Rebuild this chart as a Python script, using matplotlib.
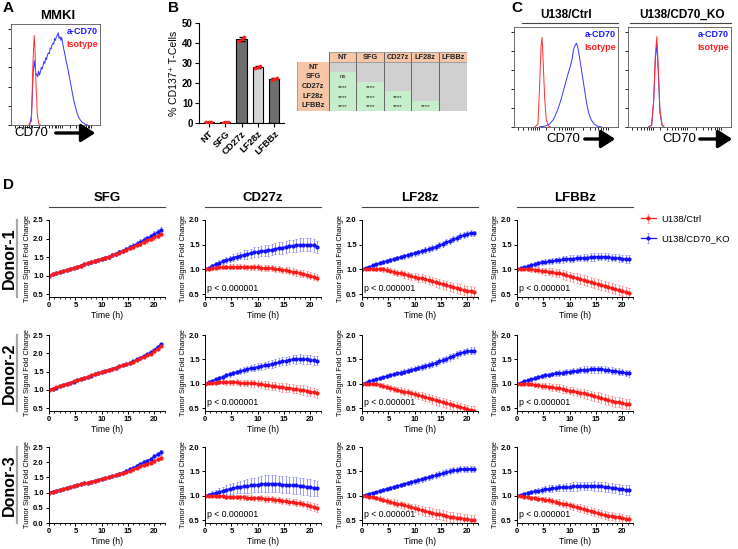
import numpy as np
import matplotlib
matplotlib.use("Agg")
import matplotlib.pyplot as plt
from matplotlib.lines import Line2D
from matplotlib.patches import Rectangle, FancyArrowPatch

plt.rcParams["font.family"] = ["Liberation Sans", "DejaVu Sans"]
plt.rcParams["font.weight"] = "bold"
plt.rcParams["axes.linewidth"] = 0.8

# ─────────────────────────────────────────────
# Data
# ─────────────────────────────────────────────
# A / C : flow histograms (x = % of display axis, y = % of mode)
mmki_iso_x = [20, 23, 24.5, 26, 27, 28, 29.5, 31, 33]
mmki_iso_y = [0, 4, 60, 93, 78, 45, 12, 2, 0]
mmki_cd70_x = [21, 23, 25, 26, 27, 28, 29, 30, 31, 32, 33, 34, 35, 36, 37, 38, 39, 40,
               41, 42, 43, 44, 45, 46, 47, 48, 49, 50, 51, 52, 53, 54, 55, 56, 57, 58,
               59, 60, 62, 64, 66, 68, 70, 72, 74, 76, 78, 80, 83, 86]
mmki_cd70_y = [0, 10, 55, 67, 60, 52, 53, 50, 56, 52, 55, 60, 58, 62, 66, 64, 70, 68,
               73, 75, 74, 80, 79, 83, 85, 84, 90, 88, 92, 93, 96, 90, 92, 88, 91, 85,
               80, 76, 66, 58, 48, 38, 28, 20, 13, 8, 5, 3, 1, 0]

ctrl_iso_x = [20, 23, 24.5, 26, 27, 28, 29.5, 31, 33, 35]
ctrl_iso_y = [0, 3, 40, 85, 94, 70, 30, 8, 1, 0]
ctrl_cd70_x = [24, 30, 34, 38, 42, 45, 48, 50, 52, 54, 56, 57, 58, 59, 60, 61, 62, 64,
               66, 68, 70, 72, 74, 77, 80, 84]
ctrl_cd70_y = [0, 1, 3, 8, 18, 28, 40, 48, 56, 63, 72, 80, 84, 86, 88, 85, 80, 66,
               52, 38, 24, 14, 8, 3, 1, 0]
ko_iso_x = [20, 23, 25, 26.5, 28, 29.5, 31, 33, 35]
ko_iso_y = [0, 2, 30, 75, 95, 60, 18, 3, 0]
ko_cd70_x = [20, 23, 25, 26.5, 28, 29.5, 31, 33, 35]
ko_cd70_y = [0, 2, 28, 70, 88, 55, 15, 2, 0]

# B : % CD137+ T cells
bar_labels = ["NT", "SFG", "CD27z", "LF28z", "LFBBz"]
bar_reps = [[0.3, 0.6, 0.5], [0.2, 0.3, 0.4], [40.8, 42.0, 43.2],
            [27.6, 28.1, 28.4], [21.7, 22.1, 22.4]]
bar_colors = ["#6e6e6e", "#6e6e6e", "#6e6e6e", "#d4d4d4", "#6e6e6e"]

# B : significance table (row vs column)
sig_table = [["", "", "", "", ""],
             ["ns", "", "", "", ""],
             ["****", "****", "", "", ""],
             ["****", "****", "****", "", ""],
             ["****", "****", "****", "****", ""]]

# D : tumor signal fold change, imaged every 40 min
time_h = np.arange(33) * 40 / 60
car_names = ["SFG", "CD27z", "LF28z", "LFBBz"]
donors = ["Donor-1", "Donor-2", "Donor-3"]

sfg_d1_ko = [1.00, 1.03, 1.06, 1.09, 1.12, 1.15, 1.18, 1.21, 1.24, 1.27, 1.30,
             1.33, 1.36, 1.39, 1.42, 1.45, 1.48, 1.51, 1.55, 1.59, 1.63, 1.67,
             1.71, 1.76, 1.81, 1.86, 1.91, 1.96, 2.01, 2.06, 2.12, 2.17, 2.23]
sfg_d1_ko_err = [0.00, 0.01, 0.01, 0.02, 0.02, 0.02, 0.03, 0.03, 0.03, 0.03, 0.04,
                 0.04, 0.04, 0.04, 0.04, 0.05, 0.05, 0.05, 0.05, 0.05, 0.05, 0.06,
                 0.06, 0.06, 0.06, 0.06, 0.07, 0.07, 0.07, 0.07, 0.07, 0.08, 0.08]
sfg_d1_ctrl = [1.00, 1.03, 1.06, 1.09, 1.12, 1.15, 1.18, 1.21, 1.24, 1.27, 1.30,
               1.33, 1.36, 1.39, 1.42, 1.45, 1.48, 1.51, 1.55, 1.58, 1.62, 1.66,
               1.70, 1.74, 1.78, 1.82, 1.86, 1.91, 1.95, 1.99, 2.04, 2.08, 2.13]
sfg_d1_ctrl_err = [0.00, 0.01, 0.01, 0.01, 0.02, 0.02, 0.02, 0.02, 0.03, 0.03, 0.03,
                   0.03, 0.03, 0.04, 0.04, 0.04, 0.04, 0.04, 0.05, 0.05, 0.05, 0.05,
                   0.05, 0.05, 0.06, 0.06, 0.06, 0.06, 0.06, 0.07, 0.07, 0.07, 0.07]

sfg_d2_ko = [1.00, 1.03, 1.06, 1.10, 1.13, 1.16, 1.19, 1.22, 1.26, 1.29, 1.32,
             1.35, 1.38, 1.42, 1.45, 1.48, 1.51, 1.54, 1.58, 1.61, 1.64, 1.67,
             1.70, 1.73, 1.78, 1.83, 1.88, 1.93, 1.98, 2.03, 2.10, 2.18, 2.26]
sfg_d2_ko_err = [0.00, 0.01, 0.01, 0.01, 0.01, 0.01, 0.01, 0.01, 0.02, 0.02, 0.02,
                 0.02, 0.02, 0.02, 0.02, 0.02, 0.02, 0.02, 0.02, 0.02, 0.02, 0.02,
                 0.03, 0.03, 0.03, 0.03, 0.03, 0.03, 0.03, 0.03, 0.03, 0.03, 0.03]
sfg_d2_ctrl = [1.00, 1.03, 1.07, 1.10, 1.14, 1.17, 1.20, 1.23, 1.27, 1.30, 1.33,
               1.36, 1.40, 1.43, 1.46, 1.49, 1.52, 1.55, 1.58, 1.61, 1.64, 1.67,
               1.70, 1.73, 1.77, 1.82, 1.86, 1.90, 1.95, 1.99, 2.05, 2.13, 2.20]
sfg_d2_ctrl_err = [0.00, 0.01, 0.01, 0.01, 0.01, 0.01, 0.01, 0.01, 0.01, 0.02, 0.02,
                   0.02, 0.02, 0.02, 0.02, 0.02, 0.02, 0.02, 0.02, 0.02, 0.02, 0.02,
                   0.02, 0.02, 0.03, 0.03, 0.03, 0.03, 0.03, 0.03, 0.03, 0.03, 0.03]

sfg_d3_ko = [1.00, 1.03, 1.06, 1.09, 1.12, 1.15, 1.18, 1.21, 1.24, 1.27, 1.30,
             1.33, 1.36, 1.39, 1.42, 1.45, 1.48, 1.51, 1.54, 1.58, 1.62, 1.66,
             1.71, 1.76, 1.82, 1.88, 1.94, 2.00, 2.05, 2.11, 2.19, 2.26, 2.32]
sfg_d3_ko_err = [0.00, 0.01, 0.01, 0.02, 0.02, 0.02, 0.02, 0.02, 0.03, 0.03, 0.03,
                 0.03, 0.03, 0.03, 0.03, 0.04, 0.04, 0.04, 0.04, 0.04, 0.05, 0.05,
                 0.05, 0.05, 0.06, 0.06, 0.06, 0.06, 0.06, 0.07, 0.07, 0.07, 0.07]
sfg_d3_ctrl = [1.00, 1.03, 1.06, 1.09, 1.12, 1.15, 1.18, 1.21, 1.24, 1.27, 1.30,
               1.33, 1.36, 1.39, 1.42, 1.45, 1.48, 1.51, 1.54, 1.57, 1.60, 1.64,
               1.68, 1.72, 1.77, 1.81, 1.86, 1.90, 1.95, 1.99, 2.04, 2.09, 2.14]
sfg_d3_ctrl_err = [0.00, 0.01, 0.01, 0.01, 0.02, 0.02, 0.02, 0.02, 0.02, 0.03, 0.03,
                   0.03, 0.03, 0.03, 0.03, 0.03, 0.04, 0.04, 0.04, 0.04, 0.04, 0.04,
                   0.05, 0.05, 0.05, 0.05, 0.05, 0.05, 0.06, 0.06, 0.06, 0.06, 0.06]

cd27z_d1_ko = [1.00, 1.03, 1.07, 1.10, 1.13, 1.16, 1.19, 1.21, 1.24, 1.26, 1.28,
               1.30, 1.31, 1.33, 1.35, 1.36, 1.37, 1.38, 1.39, 1.40, 1.42, 1.43,
               1.44, 1.46, 1.47, 1.48, 1.49, 1.50, 1.50, 1.50, 1.50, 1.49, 1.45]
cd27z_d1_ko_err = [0.00, 0.02, 0.03, 0.04, 0.05, 0.06, 0.06, 0.07, 0.07, 0.08, 0.08,
                   0.09, 0.09, 0.09, 0.10, 0.10, 0.10, 0.11, 0.11, 0.11, 0.11, 0.12,
                   0.12, 0.12, 0.12, 0.12, 0.13, 0.13, 0.13, 0.13, 0.13, 0.13, 0.12]
cd27z_d1_ctrl = [1.00, 1.01, 1.02, 1.03, 1.04, 1.04, 1.05, 1.05, 1.05, 1.05, 1.05,
                 1.05, 1.04, 1.04, 1.04, 1.04, 1.03, 1.03, 1.03, 1.02, 1.01, 1.00,
                 0.99, 0.98, 0.97, 0.95, 0.94, 0.92, 0.91, 0.89, 0.87, 0.85, 0.83]
cd27z_d1_ctrl_err = [0.00, 0.02, 0.03, 0.03, 0.04, 0.04, 0.04, 0.05, 0.05, 0.05, 0.05,
                     0.05, 0.05, 0.05, 0.06, 0.06, 0.06, 0.06, 0.06, 0.06, 0.06, 0.06,
                     0.06, 0.06, 0.07, 0.07, 0.07, 0.07, 0.07, 0.07, 0.07, 0.07, 0.07]

cd27z_d2_ko = [1.00, 1.03, 1.06, 1.09, 1.12, 1.14, 1.17, 1.19, 1.22, 1.24, 1.26,
               1.28, 1.30, 1.32, 1.33, 1.35, 1.36, 1.38, 1.39, 1.41, 1.42, 1.44,
               1.46, 1.47, 1.49, 1.50, 1.50, 1.51, 1.50, 1.50, 1.49, 1.48, 1.47]
cd27z_d2_ko_err = [0.00, 0.01, 0.02, 0.03, 0.03, 0.04, 0.04, 0.05, 0.05, 0.05, 0.06,
                   0.06, 0.06, 0.06, 0.07, 0.07, 0.07, 0.07, 0.07, 0.08, 0.08, 0.08,
                   0.08, 0.08, 0.08, 0.08, 0.09, 0.09, 0.09, 0.09, 0.09, 0.09, 0.09]
cd27z_d2_ctrl = [1.00, 1.01, 1.02, 1.02, 1.03, 1.03, 1.03, 1.03, 1.03, 1.03, 1.02,
                 1.02, 1.02, 1.01, 1.01, 1.00, 0.99, 0.98, 0.97, 0.96, 0.95, 0.94,
                 0.93, 0.92, 0.91, 0.90, 0.89, 0.88, 0.87, 0.85, 0.84, 0.82, 0.80]
cd27z_d2_ctrl_err = [0.00, 0.02, 0.03, 0.03, 0.04, 0.04, 0.05, 0.05, 0.05, 0.06, 0.06,
                     0.06, 0.06, 0.07, 0.07, 0.07, 0.07, 0.08, 0.08, 0.08, 0.08, 0.08,
                     0.09, 0.09, 0.09, 0.09, 0.09, 0.10, 0.10, 0.10, 0.10, 0.10, 0.10]

cd27z_d3_ko = [1.00, 1.02, 1.04, 1.06, 1.08, 1.10, 1.12, 1.14, 1.15, 1.17, 1.18,
               1.19, 1.20, 1.21, 1.22, 1.23, 1.24, 1.25, 1.25, 1.25, 1.25, 1.24,
               1.23, 1.23, 1.22, 1.21, 1.21, 1.20, 1.19, 1.18, 1.17, 1.16, 1.15]
cd27z_d3_ko_err = [0.00, 0.03, 0.05, 0.06, 0.07, 0.08, 0.09, 0.10, 0.11, 0.12, 0.13,
                   0.14, 0.14, 0.15, 0.15, 0.16, 0.16, 0.17, 0.17, 0.17, 0.17, 0.17,
                   0.17, 0.17, 0.17, 0.17, 0.17, 0.17, 0.17, 0.17, 0.17, 0.17, 0.16]
cd27z_d3_ctrl = [1.00, 1.00, 1.00, 0.99, 0.99, 0.99, 0.98, 0.98, 0.98, 0.97, 0.97,
                 0.97, 0.96, 0.96, 0.95, 0.95, 0.95, 0.94, 0.94, 0.93, 0.92, 0.91,
                 0.90, 0.89, 0.88, 0.87, 0.86, 0.85, 0.83, 0.81, 0.79, 0.77, 0.75]
cd27z_d3_ctrl_err = [0.00, 0.02, 0.02, 0.03, 0.03, 0.03, 0.04, 0.04, 0.04, 0.04, 0.05,
                     0.05, 0.05, 0.05, 0.05, 0.05, 0.06, 0.06, 0.06, 0.06, 0.06, 0.06,
                     0.06, 0.07, 0.07, 0.07, 0.07, 0.07, 0.07, 0.08, 0.08, 0.08, 0.08]

lf28z_d1_ko = [1.00, 1.03, 1.05, 1.08, 1.10, 1.13, 1.15, 1.17, 1.19, 1.21, 1.23,
               1.25, 1.27, 1.29, 1.31, 1.33, 1.35, 1.37, 1.39, 1.41, 1.44, 1.46,
               1.49, 1.52, 1.55, 1.58, 1.61, 1.64, 1.67, 1.70, 1.72, 1.74, 1.73]
lf28z_d1_ko_err = [0.00, 0.02, 0.02, 0.03, 0.03, 0.03, 0.04, 0.04, 0.04, 0.04, 0.05,
                   0.05, 0.05, 0.05, 0.05, 0.05, 0.05, 0.05, 0.06, 0.06, 0.06, 0.06,
                   0.06, 0.06, 0.06, 0.06, 0.06, 0.06, 0.06, 0.06, 0.06, 0.06, 0.05]
lf28z_d1_ctrl = [1.00, 1.00, 1.01, 1.01, 1.01, 1.00, 1.00, 0.99, 0.97, 0.95, 0.93,
                 0.92, 0.90, 0.88, 0.86, 0.85, 0.83, 0.82, 0.80, 0.78, 0.76, 0.74,
                 0.72, 0.70, 0.68, 0.66, 0.64, 0.62, 0.60, 0.58, 0.57, 0.56, 0.55]
lf28z_d1_ctrl_err = [0.00, 0.02, 0.03, 0.03, 0.04, 0.04, 0.05, 0.05, 0.05, 0.06, 0.06,
                     0.06, 0.07, 0.07, 0.07, 0.07, 0.08, 0.08, 0.08, 0.08, 0.08, 0.09,
                     0.09, 0.09, 0.09, 0.09, 0.09, 0.10, 0.10, 0.10, 0.10, 0.10, 0.10]

lf28z_d2_ko = [1.00, 1.02, 1.05, 1.07, 1.09, 1.11, 1.13, 1.15, 1.17, 1.19, 1.21,
               1.23, 1.25, 1.27, 1.29, 1.31, 1.33, 1.35, 1.37, 1.39, 1.41, 1.43,
               1.46, 1.48, 1.51, 1.54, 1.57, 1.60, 1.63, 1.65, 1.67, 1.68, 1.68]
lf28z_d2_ko_err = [0.00, 0.01, 0.02, 0.02, 0.03, 0.03, 0.03, 0.04, 0.04, 0.04, 0.04,
                   0.05, 0.05, 0.05, 0.05, 0.05, 0.05, 0.06, 0.06, 0.06, 0.06, 0.06,
                   0.06, 0.06, 0.06, 0.07, 0.07, 0.07, 0.07, 0.07, 0.07, 0.07, 0.07]
lf28z_d2_ctrl = [1.00, 1.00, 1.00, 1.00, 0.99, 0.98, 0.96, 0.94, 0.92, 0.90, 0.88,
                 0.86, 0.84, 0.82, 0.80, 0.78, 0.76, 0.74, 0.72, 0.70, 0.68, 0.66,
                 0.64, 0.62, 0.60, 0.58, 0.56, 0.54, 0.52, 0.50, 0.48, 0.46, 0.45]
lf28z_d2_ctrl_err = [0.00, 0.02, 0.02, 0.03, 0.04, 0.04, 0.05, 0.05, 0.06, 0.06, 0.06,
                     0.07, 0.07, 0.07, 0.07, 0.08, 0.08, 0.08, 0.08, 0.08, 0.09, 0.09,
                     0.09, 0.09, 0.09, 0.09, 0.09, 0.09, 0.09, 0.09, 0.09, 0.09, 0.09]

lf28z_d3_ko = [1.00, 1.02, 1.04, 1.06, 1.08, 1.10, 1.12, 1.14, 1.16, 1.18, 1.20,
               1.22, 1.24, 1.26, 1.28, 1.30, 1.32, 1.34, 1.36, 1.38, 1.40, 1.42,
               1.44, 1.46, 1.48, 1.50, 1.52, 1.53, 1.54, 1.55, 1.55, 1.55, 1.54]
lf28z_d3_ko_err = [0.00, 0.01, 0.02, 0.02, 0.02, 0.03, 0.03, 0.03, 0.04, 0.04, 0.04,
                   0.04, 0.04, 0.05, 0.05, 0.05, 0.05, 0.05, 0.05, 0.05, 0.05, 0.06,
                   0.06, 0.06, 0.06, 0.06, 0.06, 0.06, 0.06, 0.06, 0.06, 0.06, 0.06]
lf28z_d3_ctrl = [1.00, 0.99, 0.98, 0.97, 0.96, 0.94, 0.92, 0.90, 0.88, 0.86, 0.84,
                 0.82, 0.80, 0.78, 0.76, 0.74, 0.72, 0.70, 0.68, 0.67, 0.65, 0.63,
                 0.62, 0.60, 0.59, 0.57, 0.56, 0.55, 0.54, 0.53, 0.52, 0.51, 0.50]
lf28z_d3_ctrl_err = [0.00, 0.02, 0.03, 0.04, 0.04, 0.05, 0.05, 0.06, 0.06, 0.07, 0.07,
                     0.07, 0.08, 0.08, 0.08, 0.08, 0.09, 0.09, 0.09, 0.09, 0.09, 0.10,
                     0.10, 0.10, 0.10, 0.10, 0.10, 0.10, 0.10, 0.10, 0.10, 0.10, 0.10]

lfbbz_d1_ko = [1.00, 1.02, 1.04, 1.06, 1.08, 1.10, 1.12, 1.14, 1.15, 1.16, 1.17,
               1.18, 1.19, 1.20, 1.21, 1.22, 1.22, 1.23, 1.23, 1.24, 1.24, 1.25,
               1.25, 1.26, 1.26, 1.26, 1.25, 1.24, 1.24, 1.23, 1.22, 1.21, 1.21]
lfbbz_d1_ko_err = [0.00, 0.02, 0.03, 0.03, 0.04, 0.04, 0.05, 0.05, 0.05, 0.06, 0.06,
                   0.06, 0.06, 0.07, 0.07, 0.07, 0.07, 0.07, 0.07, 0.08, 0.08, 0.08,
                   0.08, 0.08, 0.08, 0.08, 0.08, 0.08, 0.08, 0.08, 0.08, 0.08, 0.08]
lfbbz_d1_ctrl = [1.00, 1.00, 1.01, 1.01, 1.00, 0.99, 0.98, 0.97, 0.96, 0.95, 0.94,
                 0.93, 0.92, 0.90, 0.88, 0.86, 0.84, 0.82, 0.80, 0.78, 0.76, 0.74,
                 0.72, 0.70, 0.68, 0.66, 0.64, 0.62, 0.60, 0.58, 0.56, 0.54, 0.52]
lfbbz_d1_ctrl_err = [0.00, 0.02, 0.03, 0.04, 0.05, 0.05, 0.06, 0.06, 0.07, 0.07, 0.08,
                     0.08, 0.08, 0.09, 0.09, 0.09, 0.09, 0.10, 0.10, 0.10, 0.10, 0.10,
                     0.10, 0.10, 0.10, 0.10, 0.10, 0.10, 0.10, 0.10, 0.10, 0.10, 0.10]

lfbbz_d2_ko = [1.00, 1.02, 1.05, 1.07, 1.09, 1.11, 1.13, 1.15, 1.17, 1.18, 1.20,
               1.21, 1.22, 1.23, 1.24, 1.25, 1.26, 1.27, 1.28, 1.29, 1.29, 1.30,
               1.30, 1.30, 1.30, 1.29, 1.28, 1.27, 1.26, 1.25, 1.24, 1.22, 1.21]
lfbbz_d2_ko_err = [0.00, 0.01, 0.02, 0.03, 0.03, 0.04, 0.04, 0.04, 0.05, 0.05, 0.05,
                   0.05, 0.06, 0.06, 0.06, 0.06, 0.06, 0.06, 0.07, 0.07, 0.07, 0.07,
                   0.07, 0.07, 0.07, 0.07, 0.07, 0.07, 0.07, 0.07, 0.07, 0.07, 0.07]
lfbbz_d2_ctrl = [1.00, 1.00, 1.00, 1.00, 0.99, 0.98, 0.97, 0.96, 0.95, 0.94, 0.93,
                 0.92, 0.91, 0.89, 0.88, 0.86, 0.85, 0.83, 0.81, 0.80, 0.78, 0.76,
                 0.74, 0.72, 0.70, 0.68, 0.67, 0.65, 0.63, 0.62, 0.60, 0.59, 0.58]
lfbbz_d2_ctrl_err = [0.00, 0.02, 0.03, 0.04, 0.04, 0.05, 0.05, 0.06, 0.06, 0.07, 0.07,
                     0.07, 0.08, 0.08, 0.08, 0.08, 0.09, 0.09, 0.09, 0.09, 0.09, 0.09,
                     0.10, 0.10, 0.10, 0.10, 0.10, 0.10, 0.10, 0.10, 0.10, 0.10, 0.10]

lfbbz_d3_ko = [1.00, 1.02, 1.04, 1.06, 1.07, 1.09, 1.10, 1.12, 1.13, 1.14, 1.15,
               1.16, 1.17, 1.17, 1.18, 1.18, 1.19, 1.19, 1.20, 1.20, 1.20, 1.20,
               1.20, 1.19, 1.19, 1.18, 1.17, 1.16, 1.15, 1.14, 1.13, 1.12, 1.11]
lfbbz_d3_ko_err = [0.00, 0.02, 0.03, 0.04, 0.04, 0.05, 0.05, 0.06, 0.06, 0.07, 0.07,
                   0.07, 0.08, 0.08, 0.08, 0.08, 0.09, 0.09, 0.09, 0.09, 0.09, 0.09,
                   0.10, 0.10, 0.10, 0.10, 0.10, 0.10, 0.10, 0.10, 0.10, 0.10, 0.10]
lfbbz_d3_ctrl = [1.00, 0.99, 0.98, 0.97, 0.96, 0.95, 0.94, 0.93, 0.92, 0.91, 0.89,
                 0.88, 0.86, 0.84, 0.82, 0.80, 0.78, 0.76, 0.74, 0.72, 0.70, 0.68,
                 0.66, 0.64, 0.62, 0.60, 0.59, 0.58, 0.57, 0.56, 0.55, 0.53, 0.52]
lfbbz_d3_ctrl_err = [0.00, 0.02, 0.02, 0.03, 0.04, 0.04, 0.05, 0.05, 0.05, 0.06, 0.06,
                     0.06, 0.07, 0.07, 0.07, 0.07, 0.07, 0.08, 0.08, 0.08, 0.08, 0.08,
                     0.08, 0.08, 0.08, 0.08, 0.08, 0.08, 0.08, 0.08, 0.08, 0.08, 0.08]

# ─────────────────────────────────────────────
# Layout helpers (pixel boxes, origin top-left)
# ─────────────────────────────────────────────
W, H = 738, 549
fig = plt.figure(figsize=(W / 100, H / 100), dpi=100)

RED, RED_LT = "#ff1a1a", "#ff8a8a"
BLUE, BLUE_LT = "#1010ff", "#8c8cff"


def add_ax(x0, y0, x1, y1):
    return fig.add_axes([x0 / W, 1 - y1 / H, (x1 - x0) / W, (y1 - y0) / H])


def ftext(x, y, s, **kw):
    return fig.text(x / W, 1 - y / H, s, **kw)


def hline(x0, x1, y, color="#444444", lw=0.8):
    fig.add_artist(Line2D([x0 / W, x1 / W], [1 - y / H, 1 - y / H],
                          transform=fig.transFigure, color=color, lw=lw))


def cd70_arrow(x_text, x0, x1, y):
    ftext(x_text, y, "CD70", fontsize=9.5, weight="normal", va="center")
    fig.add_artist(FancyArrowPatch((x0 / W, 1 - y / H), (x1 / W, 1 - y / H),
                                   transform=fig.transFigure, color="black",
                                   arrowstyle="-|>,head_length=0.7,head_width=0.45",
                                   mutation_scale=12, lw=2.4))


flow_ticks = [4, 9, 13, 16, 18, 20, 22, 24, 31, 38, 43, 46, 49, 51, 53, 55, 57,
              66, 73, 78, 81, 84, 86, 88, 90]


def draw_hist(ax, iso_x, iso_y, cd_x, cd_y):
    ax.plot(cd_x, cd_y, color="#3434ff", lw=0.7)
    ax.plot(iso_x, iso_y, color="#ff3030", lw=0.7)
    ax.set_xlim(0, 100)
    ax.set_ylim(0, 105)
    ax.set_yticks([0, 20, 40, 60, 80, 100])
    ax.set_xticks(flow_ticks)
    ax.set_xticklabels([])
    ax.set_yticklabels([])
    ax.tick_params(length=2, width=0.6)
    for s in ax.spines.values():
        s.set_linewidth(0.6)
        s.set_color("#555555")
    ax.text(0.98, 0.97, "a-CD70", color="#1a1aff", transform=ax.transAxes,
            ha="right", va="top", fontsize=6.5)
    ax.text(0.98, 0.84, "Isotype", color="#ff2020", transform=ax.transAxes,
            ha="right", va="top", fontsize=6.5)


# ─────────────────────────────────────────────
# A : MMKI histogram
# ─────────────────────────────────────────────
ftext(3, 8, "A", fontsize=11, va="center")
ax_a = add_ax(11, 24, 100, 125)
draw_hist(ax_a, mmki_iso_x, mmki_iso_y, mmki_cd70_x, mmki_cd70_y)
ftext(58, 16, "MMKI", fontsize=9.5, ha="center", va="center")
cd70_arrow(14, 53, 98, 133)

# ─────────────────────────────────────────────
# B : bars + significance table
# ─────────────────────────────────────────────
ftext(168, 8, "B", fontsize=11, va="center")
ax_b = add_ax(199, 23, 284, 123)
xb = np.arange(len(bar_labels))
means = [np.mean(r) for r in bar_reps]
sds = [np.std(r) for r in bar_reps]
ax_b.bar(xb, means, width=0.62, color=bar_colors, edgecolor="black", lw=0.8, zorder=1)
ax_b.errorbar(xb, means, yerr=sds, fmt="none", ecolor="black", elinewidth=0.7,
              capsize=2, zorder=2)
for i, reps in enumerate(bar_reps):
    ax_b.scatter(i + np.linspace(-0.16, 0.16, len(reps)), reps, s=7, color="#ff1a1a",
                 zorder=3, linewidths=0)
ax_b.set_xlim(-0.6, 4.6)
ax_b.set_ylim(0, 50)
ax_b.set_yticks([0, 10, 20, 30, 40, 50])
ax_b.set_xticks(xb)
ax_b.set_xticklabels(bar_labels, rotation=45, ha="right", rotation_mode="anchor",
                     fontsize=6.8)
ax_b.tick_params(axis="y", labelsize=7, length=3, width=0.8, pad=1.5)
ax_b.tick_params(axis="x", length=3, width=0.8, pad=1.5)
ax_b.spines[["top", "right"]].set_visible(False)
ax_b.set_ylabel("% CD137\u207a T-Cells", fontsize=7.5, labelpad=2)

ax_t = add_ax(297, 52, 467, 111)
col_w = [32] + [27.6] * 5
row_h = [10] + [9.8] * 5
cx = np.concatenate([[0], np.cumsum(col_w)])
cy = np.concatenate([[0], np.cumsum(row_h)])
for r in range(6):
    for c in range(6):
        if r == 0 and c == 0:
            continue
        if r == 0 or c == 0:
            fc = "#f6c6a6"
            lab = bar_labels[c - 1] if r == 0 else bar_labels[r - 1]
        elif r - 1 <= c - 1:
            fc, lab = "#d0d0d0", ""
        else:
            fc, lab = "#c6eecb", sig_table[r - 1][c - 1]
        ax_t.add_patch(Rectangle((cx[c], cy[r]), col_w[c], row_h[r], facecolor=fc,
                                 edgecolor="none"))
        if lab:
            small = lab in ("****", "ns")
            ax_t.text(cx[c] + col_w[c] / 2, cy[r] + row_h[r] / 2 + (1.2 if lab == "****" else 0),
                      lab, ha="center", va="center",
                      fontsize=4.5 if small else 5.3,
                      weight="normal" if small else "bold", color="#222222")
for c in range(1, 7):
    ax_t.plot([cx[c], cx[c]], [0, cy[-1]], color="#666666", lw=0.7)
ax_t.plot([0, 0], [cy[1], cy[-1]], color="#999999", lw=0.6)
ax_t.plot([cx[1], cx[-1]], [0, 0], color="#999999", lw=0.6)
ax_t.plot([cx[1], cx[-1]], [cy[1], cy[1]], color="#888888", lw=0.5)
ax_t.plot([0, cx[-1]], [cy[-1], cy[-1]], color="#999999", lw=0.6)
ax_t.set_xlim(0, cx[-1] + 0.5)
ax_t.set_ylim(cy[-1] + 0.5, -0.5)
ax_t.axis("off")

# ─────────────────────────────────────────────
# C : U138 histograms
# ─────────────────────────────────────────────
ftext(511, 8, "C", fontsize=11, va="center")
ax_c1 = add_ax(514, 27, 618, 127)
draw_hist(ax_c1, ctrl_iso_x, ctrl_iso_y, ctrl_cd70_x, ctrl_cd70_y)
ftext(566, 15, "U138/Ctrl", fontsize=8.5, ha="center", va="center")
hline(522, 618, 23)
cd70_arrow(546, 582, 618, 139)

ax_c2 = add_ax(628, 27, 731, 127)
draw_hist(ax_c2, ko_iso_x, ko_iso_y, ko_cd70_x, ko_cd70_y)
ftext(682, 15, "U138/CD70_KO", fontsize=8.5, ha="center", va="center")
hline(630, 731, 23)
cd70_arrow(662, 697, 735, 139)

# ─────────────────────────────────────────────
# D : tumor killing kinetics
# ─────────────────────────────────────────────
ftext(3, 185, "D", fontsize=11, va="center")
series = {
    (0, 0): (sfg_d1_ctrl, sfg_d1_ctrl_err, sfg_d1_ko, sfg_d1_ko_err),
    (1, 0): (sfg_d2_ctrl, sfg_d2_ctrl_err, sfg_d2_ko, sfg_d2_ko_err),
    (2, 0): (sfg_d3_ctrl, sfg_d3_ctrl_err, sfg_d3_ko, sfg_d3_ko_err),
    (0, 1): (cd27z_d1_ctrl, cd27z_d1_ctrl_err, cd27z_d1_ko, cd27z_d1_ko_err),
    (1, 1): (cd27z_d2_ctrl, cd27z_d2_ctrl_err, cd27z_d2_ko, cd27z_d2_ko_err),
    (2, 1): (cd27z_d3_ctrl, cd27z_d3_ctrl_err, cd27z_d3_ko, cd27z_d3_ko_err),
    (0, 2): (lf28z_d1_ctrl, lf28z_d1_ctrl_err, lf28z_d1_ko, lf28z_d1_ko_err),
    (1, 2): (lf28z_d2_ctrl, lf28z_d2_ctrl_err, lf28z_d2_ko, lf28z_d2_ko_err),
    (2, 2): (lf28z_d3_ctrl, lf28z_d3_ctrl_err, lf28z_d3_ko, lf28z_d3_ko_err),
    (0, 3): (lfbbz_d1_ctrl, lfbbz_d1_ctrl_err, lfbbz_d1_ko, lfbbz_d1_ko_err),
    (1, 3): (lfbbz_d2_ctrl, lfbbz_d2_ctrl_err, lfbbz_d2_ko, lfbbz_d2_ko_err),
    (2, 3): (lfbbz_d3_ctrl, lfbbz_d3_ctrl_err, lfbbz_d3_ko, lfbbz_d3_ko_err),
}

col_x = [(49, 165), (205, 321), (362, 478), (517, 633)]
row_y = [(220, 297), (335, 411), (447, 523)]

handles = None
for c, name in enumerate(car_names):
    x0, x1 = col_x[c]
    ftext((x0 + x1) / 2, 198, name, fontsize=9.5, ha="center", va="center")
    hline(x0, x1, 207)

for r, donor in enumerate(donors):
    y0, y1 = row_y[r]
    ftext(9, (y0 + y1) / 2, donor, fontsize=11.5, rotation=90, ha="center", va="center")
    fig.add_artist(Line2D([17 / W, 17 / W], [1 - y0 / H, 1 - y1 / H],
                          transform=fig.transFigure, color="#a8a8a8", lw=1.6))
    for c in range(4):
        x0, x1 = col_x[c]
        ax = add_ax(x0, y0, x1, y1)
        ctrl, ctrl_err, ko, ko_err = series[(r, c)]
        h_ko = ax.errorbar(time_h, ko, yerr=ko_err, color=BLUE, ecolor=BLUE_LT,
                           marker="o", ms=2.0, lw=0.9, elinewidth=0.6, capsize=0.9,
                           capthick=0.6)
        h_ctrl = ax.errorbar(time_h, ctrl, yerr=ctrl_err, color=RED, ecolor=RED_LT,
                             marker="o", ms=2.0, lw=0.9, elinewidth=0.6, capsize=0.9,
                             capthick=0.6)
        if handles is None:
            handles = (h_ctrl, h_ko)
        ax.set_xlim(0, 22)
        ax.set_xticks([0, 5, 10, 15, 20])
        ax.set_xticks(np.arange(0, 23, 1), minor=True)
        if c == 0:
            if r == 2:
                ax.set_ylim(0, 2.5)
                ax.set_yticks([0, 0.5, 1.0, 1.5, 2.0, 2.5])
            else:
                ax.set_ylim(0.42, 2.5)
                ax.set_yticks([0.5, 1.0, 1.5, 2.0, 2.5])
        else:
            ax.set_ylim(0.44, 2.0)
            ax.set_yticks([0.5, 1.0, 1.5, 2.0])
            ax.text(0.02, 0.11, "p < 0.000001", transform=ax.transAxes,
                    fontsize=6.3, weight="normal", va="center")
        ax.yaxis.set_major_formatter(matplotlib.ticker.FormatStrFormatter("%.1f"))
        ax.tick_params(labelsize=5.5, length=2.5, width=0.7, pad=1.2)
        ax.tick_params(which="minor", length=1.5, width=0.6)
        ax.spines[["top", "right"]].set_visible(False)
        for s in ("left", "bottom"):
            ax.spines[s].set_linewidth(0.7)
        ax.set_xlabel("Time (h)", fontsize=6.2, labelpad=1.5)
        ax.set_ylabel("Tumor Signal Fold Change", fontsize=5.3, labelpad=1.5)

fig.legend(handles, ["U138/Ctrl", "U138/CD70_KO"], loc="center left",
           bbox_to_anchor=(632 / W, 1 - 229 / H), frameon=False,
           prop={"size": 6.8, "weight": "normal"}, handlelength=1.6,
           labelspacing=1.1, handletextpad=0.6)

fig.savefig("out.png", dpi=100)
